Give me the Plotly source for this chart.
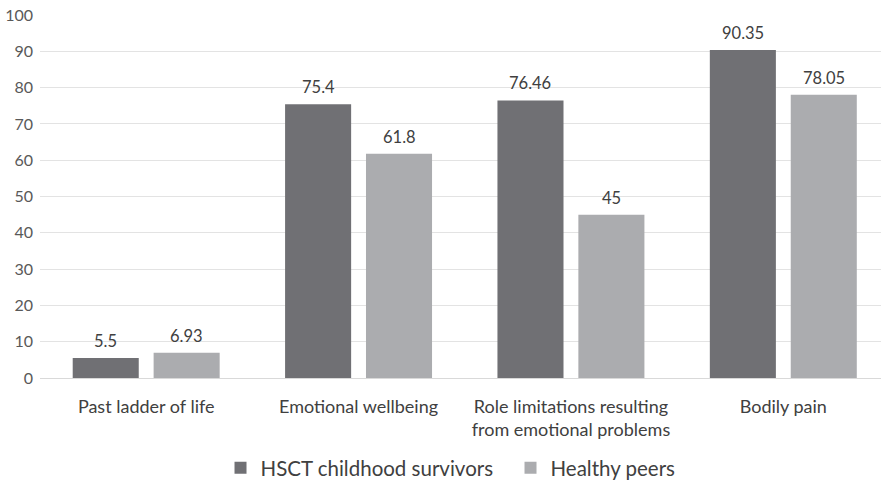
import plotly.graph_objects as go

categories = [
    "Past ladder of life",
    "Emotional wellbeing",
    "Role limitations resulting<br>from emotional problems",
    "Bodily pain",
]
survivors = [5.5, 75.4, 76.46, 90.35]
peers = [6.93, 61.8, 45, 78.05]
survivor_labels = ["5.5", "75.4", "76.46", "90.35"]
peer_labels = ["6.93", "61.8", "45", "78.05"]
y_ticks = [0, 10, 20, 30, 40, 50, 60, 70, 80, 90, 100]

FONT = "Lato, 'Open Sans', sans-serif"
LABEL_COLOR = "#404040"
x_pos = list(range(len(categories)))

# bar geometry in category units: each group holds two bars with a small gap
BAR_W = 0.311
OFFSETS = [-0.346, 0.035]

series = [
    ("HSCT childhood survivors", survivors, survivor_labels, "#707074"),
    ("Healthy peers", peers, peer_labels, "#abacaf"),
]

fig = go.Figure()
annotations = []
for (name, vals, labels, color), off in zip(series, OFFSETS):
    fig.add_trace(go.Bar(
        name=name, x=x_pos, y=vals,
        width=BAR_W, offset=off,
        marker=dict(color=color, line=dict(width=0)),
        hoverinfo="name+y",
    ))
    # value labels sit a little above each bar top
    for xi, v, lab in zip(x_pos, vals, labels):
        annotations.append(dict(
            x=xi + off + BAR_W / 2, y=v, xref="x", yref="y",
            text=lab, showarrow=False, yanchor="bottom", yshift=5,
            font=dict(size=16.5, color=LABEL_COLOR, family=FONT),
        ))

fig.update_layout(
    width=881, height=483,
    margin=dict(l=40, r=0, t=15, b=105),
    paper_bgcolor="white", plot_bgcolor="white",
    font=dict(family=FONT, color=LABEL_COLOR),
    barmode="overlay",
    showlegend=True,
    legend=dict(
        orientation="h", xref="container", yref="container",
        x=0.2503, xanchor="left", y=0.031, yanchor="middle",
        font=dict(size=20.5, color=LABEL_COLOR), itemwidth=30,
        entrywidth=245, entrywidthmode="pixels",
        traceorder="normal",
    ),
    annotations=annotations,
    xaxis=dict(
        tickmode="array", tickvals=x_pos, ticktext=categories,
        range=[-0.5, 3.46], showgrid=False, showline=False, ticks="",
        tickfont=dict(size=18, color=LABEL_COLOR),
        ticklabelstandoff=16,
    ),
    yaxis=dict(
        range=[0, 100], tickvals=y_ticks, showgrid=True,
        gridcolor="#e3e3e3", gridwidth=1, zeroline=True,
        zerolinecolor="#d9d9d9", zerolinewidth=1, showline=False,
        ticks="", tickfont=dict(size=16, color="#595959"),
        ticklabelstandoff=6,
    ),
)

fig.write_html("out.html")
